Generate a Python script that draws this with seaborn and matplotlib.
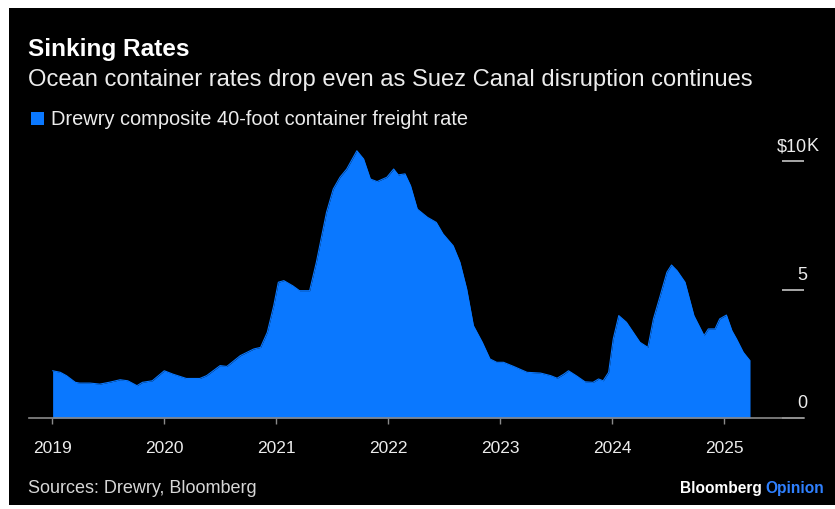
import matplotlib
matplotlib.use("Agg")
import matplotlib.pyplot as plt
import matplotlib.transforms as mtransforms
from matplotlib.patches import Rectangle
import pandas as pd
import seaborn as sns

# Drewry World Container Index, composite 40-ft rate (thousands of USD)
dates = [
    "2019-01-03", "2019-01-28", "2019-02-17", "2019-03-18", "2019-04-01",
    "2019-05-05", "2019-06-06", "2019-07-10", "2019-08-11", "2019-09-05",
    "2019-10-05", "2019-10-23", "2019-11-24", "2020-01-02", "2020-01-30",
    "2020-03-14", "2020-04-27", "2020-05-19", "2020-07-02", "2020-07-24",
    "2020-09-06", "2020-10-20", "2020-11-11", "2020-12-03", "2020-12-24",
    "2021-01-08", "2021-01-26", "2021-02-24", "2021-03-18", "2021-04-20",
    "2021-05-12", "2021-06-14", "2021-07-06", "2021-07-28", "2021-08-19",
    "2021-09-21", "2021-10-13", "2021-11-04", "2021-11-26", "2021-12-28",
    "2022-01-19", "2022-02-03", "2022-02-25", "2022-03-15", "2022-04-06",
    "2022-05-09", "2022-06-07", "2022-06-29", "2022-08-01", "2022-08-23",
    "2022-09-14", "2022-10-06", "2022-11-04", "2022-11-29", "2022-12-21",
    "2023-01-12", "2023-02-14", "2023-03-30", "2023-05-13", "2023-06-15",
    "2023-07-06", "2023-07-28", "2023-08-12", "2023-09-06", "2023-10-05",
    "2023-10-31", "2023-11-18", "2023-12-03", "2023-12-21", "2024-01-05",
    "2024-01-23", "2024-02-17", "2024-03-10", "2024-04-01", "2024-04-27",
    "2024-05-15", "2024-06-06", "2024-06-28", "2024-07-13", "2024-07-31",
    "2024-08-26", "2024-09-24", "2024-10-27", "2024-11-10", "2024-12-02",
    "2024-12-17", "2025-01-08", "2025-01-26", "2025-02-10", "2025-03-04",
    "2025-03-26",
]
rates_k = [
    1.84, 1.78, 1.65, 1.39, 1.36,
    1.36, 1.32, 1.40, 1.49, 1.45,
    1.26, 1.39, 1.45, 1.84, 1.71,
    1.54, 1.54, 1.65, 2.04, 2.01,
    2.43, 2.69, 2.75, 3.34, 4.38,
    5.29, 5.35, 5.15, 4.96, 4.96,
    6.07, 8.01, 8.92, 9.38, 9.70,
    10.41, 10.09, 9.31, 9.21, 9.38,
    9.70, 9.47, 9.51, 9.05, 8.14,
    7.82, 7.62, 7.17, 6.71, 6.07,
    5.03, 3.60, 2.95, 2.30, 2.17,
    2.17, 2.01, 1.78, 1.75, 1.65,
    1.55, 1.71, 1.84, 1.65, 1.41,
    1.39, 1.52, 1.45, 1.78, 3.08,
    3.99, 3.73, 3.34, 2.95, 2.75,
    3.86, 4.76, 5.68, 5.96, 5.74,
    5.29, 3.99, 3.21, 3.47, 3.47,
    3.86, 4.01, 3.40, 3.08, 2.56,
    2.23,
]

year_ticks = [2019, 2020, 2021, 2022, 2023, 2024, 2025]
y_ticks = [0, 5, 10]
y_tick_labels = ["0", "5", "$10"]
y_tick_suffix = ["", "", "K"]

title = "Sinking Rates"
subtitle = "Ocean container rates drop even as Suez Canal disruption continues"
series_name = "Drewry composite 40-foot container freight rate"
source = "Sources: Drewry, Bloomberg"

BLUE = "#0a78ff"
TEXT = "#ececec"
GRID = "#8a8a8a"

sns.set_theme(style="dark")
plt.rcParams["font.family"] = ["Liberation Sans", "DejaVu Sans"]

W, H = 835, 510
fig = plt.figure(figsize=(W / 100, H / 100), dpi=100, facecolor="white")


def fy(px):
    return 1 - px / H


# black card behind the whole graphic
fig.patches.append(Rectangle((9 / W, fy(506)), 1 - 9 / W, (506 - 9) / H,
                             transform=fig.transFigure, facecolor="black",
                             edgecolor="none", zorder=-5))

fig.text(28 / W, fy(56), title, color="white", fontsize=17.6,
         fontweight="bold", va="baseline", ha="left")
fig.text(28 / W, fy(86), subtitle, color=TEXT, fontsize=17.1,
         va="baseline", ha="left")
fig.patches.append(Rectangle((31 / W, fy(126)), 13 / W, 13 / H,
                             transform=fig.transFigure, facecolor=BLUE,
                             edgecolor="none", zorder=1))
fig.text(51 / W, fy(125), series_name, color=TEXT, fontsize=14.4,
         va="baseline", ha="left")
fig.text(28 / W, fy(493), source, color="#d6d6d6", fontsize=13,
         va="baseline", ha="left")
fig.text(762 / W, fy(493), "Bloomberg", color="white", fontsize=11.2,
         fontweight="bold", va="baseline", ha="right")
fig.text(765 / W, fy(493), "Opinion", color="#2f80ff", fontsize=11.2,
         fontweight="bold", va="baseline", ha="left")

# plot area
y_top = 11.0
px_per_k = 25.67
ax = fig.add_axes([29 / W, fy(419), (804 - 29) / W, y_top * px_per_k / H])
ax.set_facecolor("none")
ax.set_zorder(2)

df = pd.DataFrame({"date": pd.to_datetime(dates), "rate": rates_k})
sns.lineplot(data=df, x="date", y="rate", ax=ax, color=BLUE, linewidth=0.8)
ax.fill_between(df["date"], 0, df["rate"], color=BLUE, linewidth=0)

ax.set_xlim(pd.Timestamp("2018-10-18"), pd.Timestamp("2025-09-18"))
ax.set_ylim(0, y_top)
ax.set_xlabel("")
ax.set_ylabel("")

ax.set_xticks(pd.to_datetime([f"{y}-01-01" for y in year_ticks]))
ax.set_xticklabels([str(y) for y in year_ticks])
ax.tick_params(axis="x", bottom=True, direction="out", length=4.5, width=1,
               color=GRID, labelcolor=TEXT, labelsize=12.5, pad=11.5)

ax.yaxis.tick_right()
ax.set_yticks(y_ticks)
ax.tick_params(axis="y", right=True, left=False, direction="in", length=16,
               width=1.2, color="#c4c4c4", labelright=False, labelleft=False)

for s in ["top", "left", "right"]:
    ax.spines[s].set_visible(False)
ax.spines["bottom"].set_color(GRID)
ax.spines["bottom"].set_linewidth(1.2)
ax.spines["bottom"].set_zorder(5)
ax.grid(False)

base = mtransforms.blended_transform_factory(ax.transAxes, ax.transData)
lab_tr = mtransforms.offset_copy(base, fig=fig, x=3, y=11, units="dots")
for v, lab, suf in zip(y_ticks, y_tick_labels, y_tick_suffix):
    ax.text(1.0, v, lab, transform=lab_tr, ha="right", va="baseline",
            color=TEXT, fontsize=13, clip_on=False)
    if suf:
        ax.text(1.0, v, suf, transform=lab_tr, ha="left", va="baseline",
                color=TEXT, fontsize=13, clip_on=False)

fig.savefig("out.png", dpi=100, facecolor=fig.get_facecolor())
